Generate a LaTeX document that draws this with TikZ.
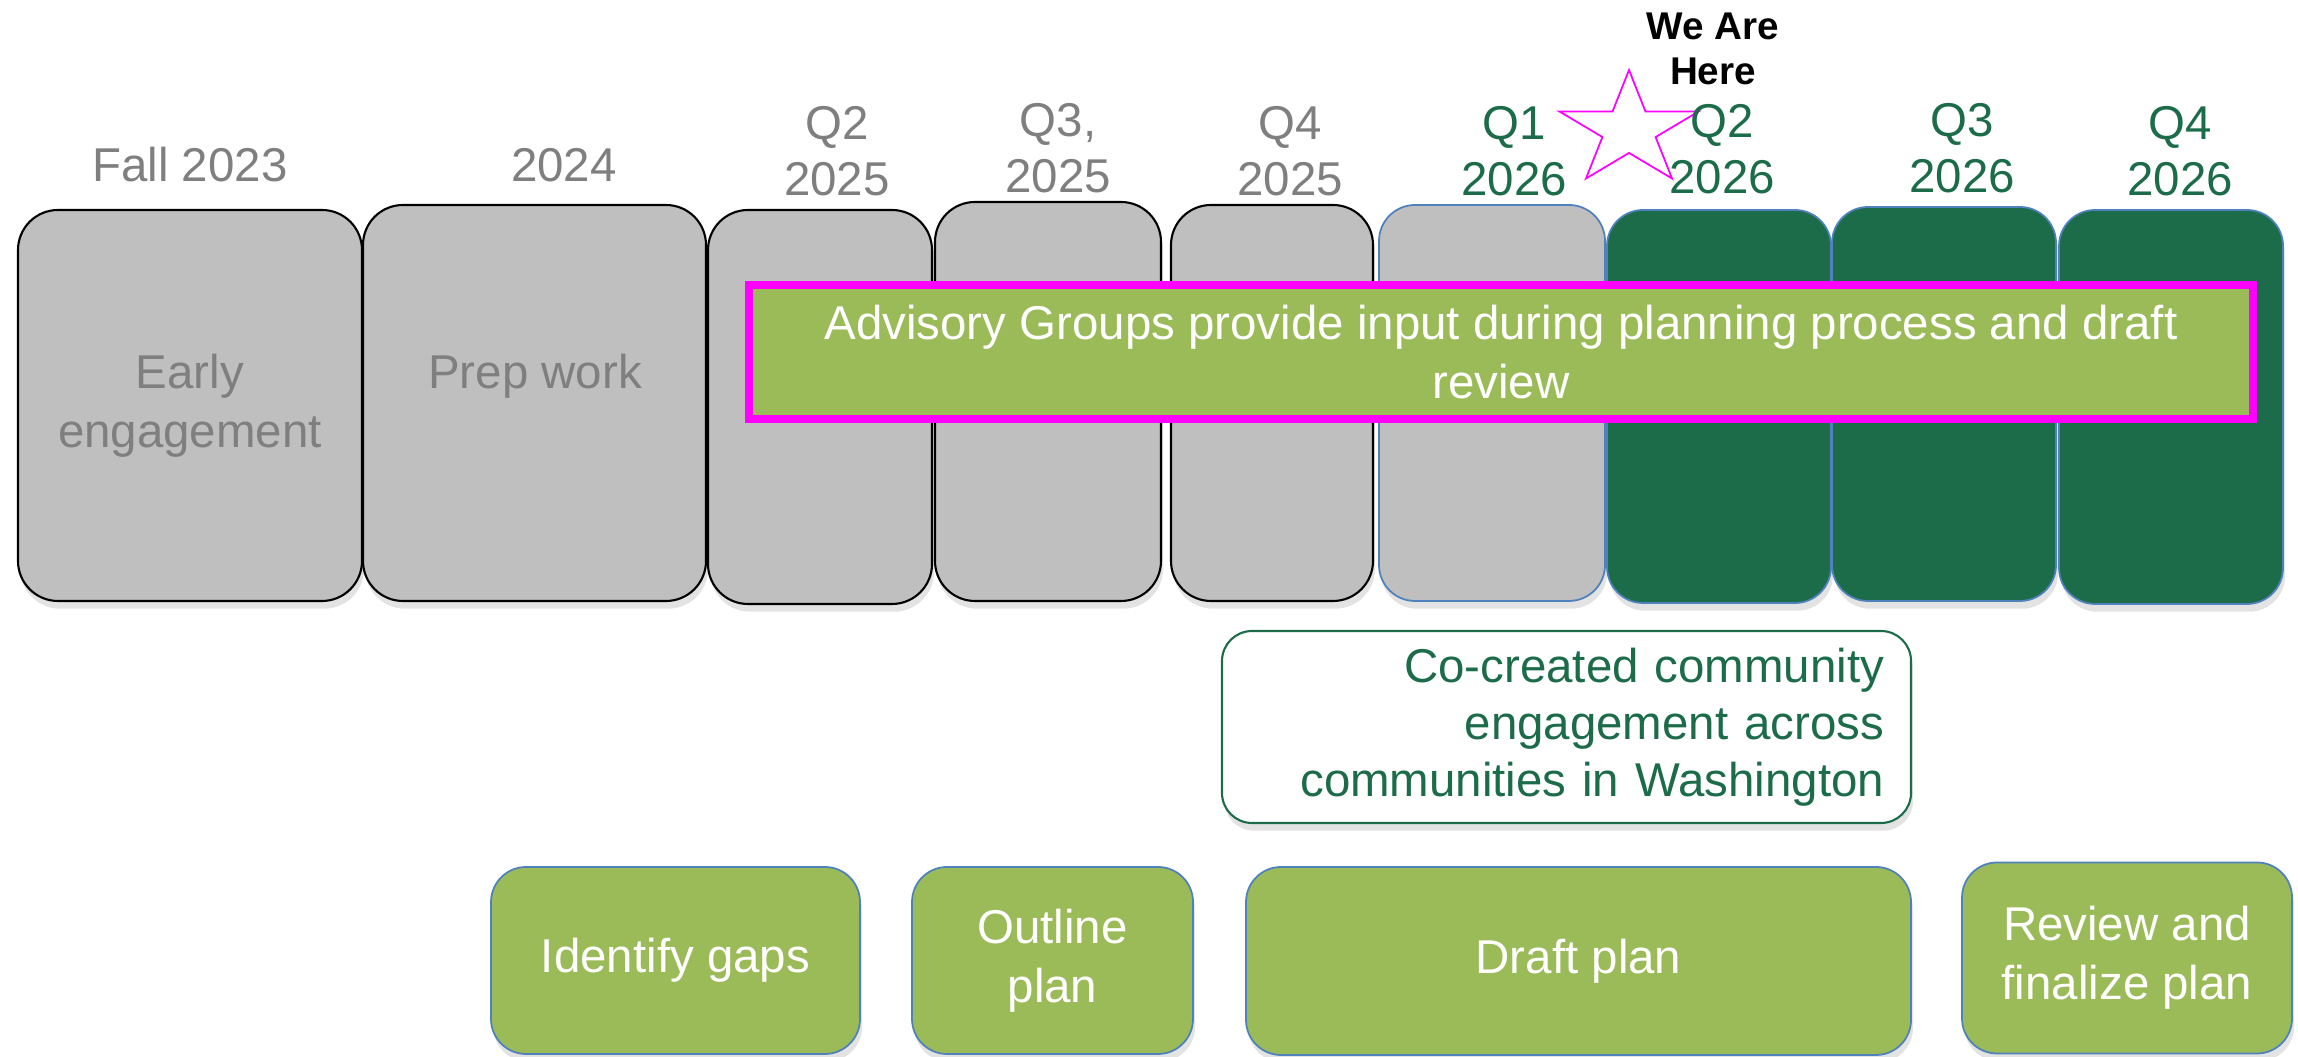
\documentclass[tikz,border=0pt]{standalone}
\usepackage{fontspec}
\setmainfont{Liberation Sans}
\usepackage{tikz}
\usetikzlibrary{shapes.geometric,shadows}
\definecolor{boxgray}{HTML}{BFBFBF}
\definecolor{textgray}{HTML}{7F7F7F}
\definecolor{darkgreen}{HTML}{1C6C4A}
\definecolor{lightgreen}{HTML}{9BBB59}
\definecolor{edgeblue}{HTML}{4F81BD}
\definecolor{hotpink}{RGB}{255,0,255}
\tikzset{%
  softshadow/.style={drop shadow={shadow xshift=0.6pt, shadow yshift=-2.2pt, opacity=0.22}},
  phase/.style={rectangle, rounded corners=0.4cm, fill=boxgray, draw=black, line width=0.6pt,
    softshadow, text=textgray, align=center, inner sep=0pt},
  nowbox/.style={phase, rounded corners=0.36cm, draw=edgeblue, line width=0.5pt},
  nextbox/.style={nowbox, fill=darkgreen},
  task/.style={rectangle, rounded corners=0.35cm, fill=lightgreen, draw=edgeblue, line width=0.5pt,
    softshadow, text=white, align=center, inner sep=0pt},
  when/.style={text=textgray, align=center, font=\fontsize{13.5}{16}\selectfont},
  whennew/.style={when, text=darkgreen}
}

\begin{document}
\begin{tikzpicture}[x=1cm, y=1cm, every node/.style={font=\fontsize{13.5}{16.8}\selectfont}]
  \useasboundingbox (0,0) rectangle (22.98,10.57);

  \node[phase, minimum width=3.44cm, minimum height=3.91cm] (p23) at (1.90,6.515) {Early\\engagement};
  \node[phase, minimum width=3.43cm, minimum height=3.96cm] (p24) at (5.345,6.54) {};
  \node[text=textgray] (prepwork) at (5.35,6.81) {Prep work};
  \node[phase, minimum width=2.24cm, minimum height=3.94cm] (p252) at (8.20,6.50) {};
  \node[phase, minimum width=2.26cm, minimum height=3.99cm] (p253) at (10.48,6.555) {};
  \node[phase, minimum width=2.02cm, minimum height=3.96cm] (p254) at (12.72,6.54) {};
  \node[nowbox, minimum width=2.26cm, minimum height=3.96cm] (p261) at (14.92,6.54) {};
  \node[nextbox, minimum width=2.24cm, minimum height=3.93cm] (p262) at (17.19,6.505) {};
  \node[nextbox, minimum width=2.24cm, minimum height=3.94cm] (p263) at (19.44,6.53) {};
  \node[nextbox, minimum width=2.24cm, minimum height=3.94cm] (p264) at (21.71,6.50) {};

  \node[draw=hotpink, line width=2.3pt, fill=lightgreen, text=white, align=center, inner sep=0pt,
    minimum width=15.04cm, minimum height=1.34cm] (advisory) at (15.01,7.05)
    {Advisory Groups provide input during planning process and draft\\review};

  \begin{scope}[shift={(16.29,9.27)}, xscale=1.22]
    \node[star, star points=5, star point ratio=2.618, minimum size=1.2cm, inner sep=0pt,
      draw=hotpink, fill=white, line width=0.5pt, transform shape] (here) at (0,0) {};
  \end{scope}

  \node[when] (h23) at (1.90,8.92) {Fall 2023};
  \node[when] (h24) at (5.64,8.92) {2024};
  \node[when] (h252) at (8.37,9.055) {Q2\\2025};
  \node[when] (h253) at (10.58,9.085) {Q3,\\2025};
  \node[when] (h254) at (12.90,9.055) {Q4\\2025};
  \node[whennew] (h261) at (15.14,9.055) {Q1\\2026};
  \node[whennew] (h262) at (17.22,9.075) {Q2\\2026};
  \node[whennew] (h263) at (19.62,9.085) {Q3\\2026};
  \node[whennew] (h264) at (21.80,9.055) {Q4\\2026};
  \node[align=center, font=\fontsize{11}{12.8}\selectfont\bfseries] (wearehere) at (17.13,10.085) {We Are\\Here};

  \node[rectangle, rounded corners=0.3cm, draw=darkgreen, line width=0.6pt, fill=white, softshadow,
    text=darkgreen, text width=6.35cm, align=right, inner xsep=0.27cm, minimum height=1.92cm,
    font=\fontsize{13.5}{16.2}\selectfont] (cocreated) at (15.665,3.30)
    {Co-created community\\engagement across\\communities in Washington};

  \node[task, minimum width=3.69cm, minimum height=1.87cm] (gaps) at (6.755,0.965) {Identify gaps};
  \node[task, minimum width=2.81cm, minimum height=1.87cm] (outline) at (10.525,0.965) {Outline\\plan};
  \node[task, minimum width=6.65cm, minimum height=1.88cm] (draft) at (15.785,0.96) {Draft plan};
  \node[task, minimum width=3.30cm, minimum height=1.91cm] (review) at (21.27,0.99) {Review and\\finalize plan};
\end{tikzpicture}
\end{document}
